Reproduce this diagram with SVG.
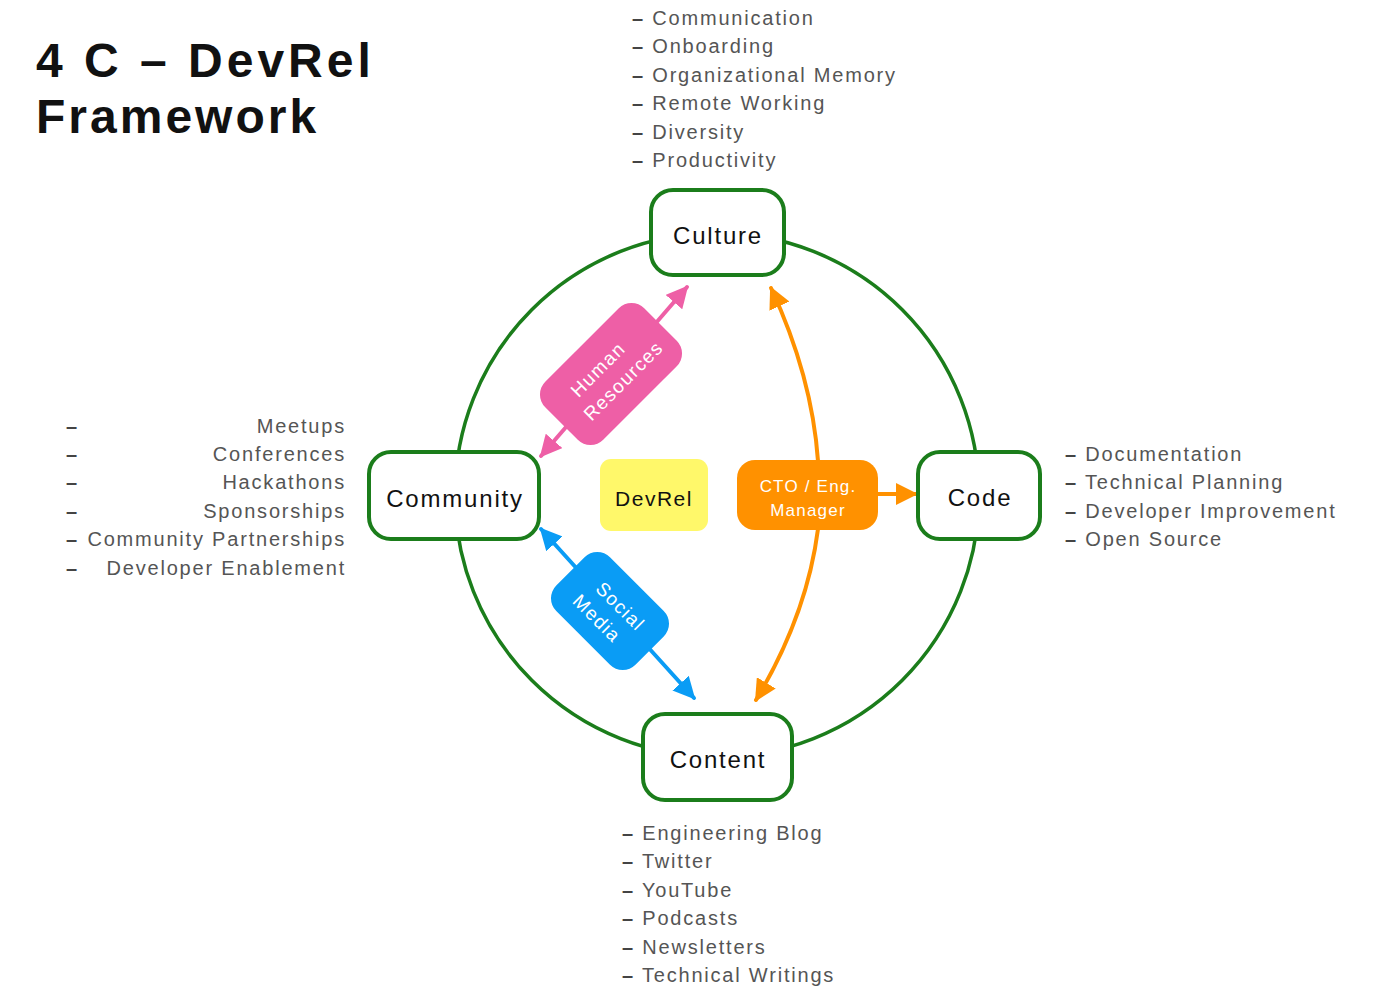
<svg xmlns="http://www.w3.org/2000/svg" width="1400" height="992" viewBox="0 0 1400 992">
<style>
.box{fill:#ffffff;stroke:#1b7d1b;stroke-width:4}
.lbl{font-family:"Liberation Sans",Arial,sans-serif;font-size:24px;fill:#111;letter-spacing:1.8px;text-anchor:middle}
.wl{font-family:"Liberation Sans",Arial,sans-serif;fill:#ffffff;text-anchor:middle}
.li{font-family:"Liberation Sans",Arial,sans-serif;font-size:20px;fill:#555;letter-spacing:1.8px}
.d{font-weight:bold;fill:#444}
.title{font-family:"Liberation Sans",Arial,sans-serif;font-size:48px;font-weight:bold;fill:#111;letter-spacing:3px}
.con{fill:none;stroke-width:4;stroke-linecap:round}
</style>
<defs>
<marker id="hp" viewBox="0 0 22 22" refX="20" refY="11" markerWidth="22" markerHeight="22" markerUnits="userSpaceOnUse" orient="auto-start-reverse"><path d="M0,0 L22,11 L0,22 Z" fill="#ee5fa6"/></marker>
<marker id="hb" viewBox="0 0 22 22" refX="20" refY="11" markerWidth="22" markerHeight="22" markerUnits="userSpaceOnUse" orient="auto-start-reverse"><path d="M0,0 L22,11 L0,22 Z" fill="#0a9cf5"/></marker>
<marker id="ho" viewBox="0 0 22 22" refX="20" refY="11" markerWidth="22" markerHeight="22" markerUnits="userSpaceOnUse" orient="auto-start-reverse"><path d="M0,0 L22,11 L0,22 Z" fill="#ff9100"/></marker>
</defs>
<rect width="1400" height="992" fill="#ffffff"/>

<g id="title">
<text class="title" x="36" y="77" style="letter-spacing:4px">4 C – DevRel</text>
<text class="title" x="36" y="133">Framework</text>
</g>

<g id="ring">
<circle cx="717" cy="495" r="262" fill="none" stroke="#1b7d1b" stroke-width="3.5"/>
</g>

<g id="connectors">
<line class="con" x1="541" y1="456" x2="687" y2="287" stroke="#ee5fa6" marker-start="url(#hp)" marker-end="url(#hp)"/>
<line class="con" x1="541" y1="529" x2="694" y2="698" stroke="#0a9cf5" marker-start="url(#hb)" marker-end="url(#hb)"/>
<path class="con" d="M818,461 Q812,376 771,288" stroke="#ff9100" marker-end="url(#ho)"/>
<path class="con" d="M818,529 Q807,615 756,700" stroke="#ff9100" marker-end="url(#ho)"/>
<line class="con" x1="877" y1="494" x2="916" y2="494" stroke="#ff9100" marker-end="url(#ho)"/>
</g>

<g id="culture">
<rect class="box" x="651" y="190" width="133" height="85" rx="22"/>
<text class="lbl" x="718" y="244">Culture</text>
</g>
<g id="community">
<rect class="box" x="369" y="452" width="170" height="87" rx="22"/>
<text class="lbl" x="455" y="507">Community</text>
</g>
<g id="code">
<rect class="box" x="918" y="452" width="122" height="87" rx="22"/>
<text class="lbl" x="980" y="506">Code</text>
</g>
<g id="content">
<rect class="box" x="643" y="714" width="149" height="86" rx="22"/>
<text class="lbl" x="718" y="768">Content</text>
</g>

<g id="devrel">
<rect x="600" y="459" width="108" height="72" rx="11" fill="#fff86a"/>
<text class="lbl" x="654" y="506" style="font-size:21px;letter-spacing:1.5px">DevRel</text>
</g>

<g id="cto">
<rect x="737" y="460" width="141" height="70" rx="18" fill="#ff9100"/>
<text class="wl" x="808" y="492" style="font-size:17px;letter-spacing:1.2px">CTO / Eng.</text>
<text class="wl" x="808" y="516" style="font-size:17px;letter-spacing:1.2px">Manager</text>
</g>

<g id="hr" transform="translate(611,374) rotate(-45)">
<rect x="-70" y="-41" width="140" height="82" rx="18" fill="#ee5fa6"/>
<text class="wl" x="-6" y="-6" style="font-size:19px;letter-spacing:1.4px">Human</text>
<text class="wl" x="4" y="20" style="font-size:19px;letter-spacing:1.4px">Resources</text>
</g>

<g id="social" transform="translate(610,611) rotate(45)">
<rect x="-56" y="-38" width="112" height="76" rx="18" fill="#0a9cf5"/>
<text class="wl" x="4" y="-4" style="font-size:19px;letter-spacing:1.4px">Social</text>
<text class="wl" x="-4" y="21" style="font-size:19px;letter-spacing:1.4px">Media</text>
</g>

<g id="culture-list">
<text class="li" x="632" y="25"><tspan class="d">–</tspan> Communication</text>
<text class="li" x="632" y="53"><tspan class="d">–</tspan> Onboarding</text>
<text class="li" x="632" y="82"><tspan class="d">–</tspan> Organizational Memory</text>
<text class="li" x="632" y="110"><tspan class="d">–</tspan> Remote Working</text>
<text class="li" x="632" y="139"><tspan class="d">–</tspan> Diversity</text>
<text class="li" x="632" y="167"><tspan class="d">–</tspan> Productivity</text>
</g>

<g id="code-list">
<text class="li" x="1065" y="461"><tspan class="d">–</tspan> Documentation</text>
<text class="li" x="1065" y="489"><tspan class="d">–</tspan> Technical Planning</text>
<text class="li" x="1065" y="518"><tspan class="d">–</tspan> Developer Improvement</text>
<text class="li" x="1065" y="546"><tspan class="d">–</tspan> Open Source</text>
</g>

<g id="content-list">
<text class="li" x="622" y="840"><tspan class="d">–</tspan> Engineering Blog</text>
<text class="li" x="622" y="868"><tspan class="d">–</tspan> Twitter</text>
<text class="li" x="622" y="897"><tspan class="d">–</tspan> YouTube</text>
<text class="li" x="622" y="925"><tspan class="d">–</tspan> Podcasts</text>
<text class="li" x="622" y="954"><tspan class="d">–</tspan> Newsletters</text>
<text class="li" x="622" y="982"><tspan class="d">–</tspan> Technical Writings</text>
</g>

<g id="community-list">
<text class="li d" x="66" y="433">–</text>
<text class="li d" x="66" y="461">–</text>
<text class="li d" x="66" y="489">–</text>
<text class="li d" x="66" y="518">–</text>
<text class="li d" x="66" y="546">–</text>
<text class="li d" x="66" y="575">–</text>
<text class="li" x="346" y="433" text-anchor="end">Meetups</text>
<text class="li" x="346" y="461" text-anchor="end">Conferences</text>
<text class="li" x="346" y="489" text-anchor="end">Hackathons</text>
<text class="li" x="346" y="518" text-anchor="end">Sponsorships</text>
<text class="li" x="346" y="546" text-anchor="end">Community Partnerships</text>
<text class="li" x="346" y="575" text-anchor="end">Developer Enablement</text>
</g>
</svg>
